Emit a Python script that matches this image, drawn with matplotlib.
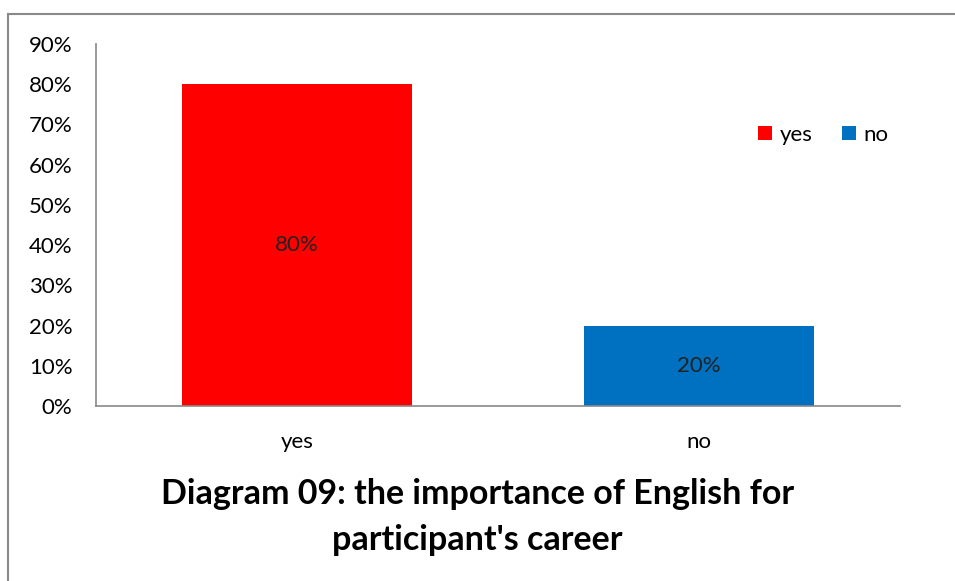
import matplotlib.pyplot as plt
from matplotlib.patches import Patch
from matplotlib.lines import Line2D

categories = ["yes", "no"]
shares = [0.80, 0.20]
bar_colors = ["#FF0000", "#0070C0"]
y_ticks = [0.0, 0.1, 0.2, 0.3, 0.4, 0.5, 0.6, 0.7, 0.8, 0.9]
title = "Diagram 09: the importance of English for\nparticipant's career"

plt.rcParams["font.family"] = ["Lato", "DejaVu Sans"]

fig = plt.figure(figsize=(9.55, 5.81), dpi=100)
ax = fig.add_axes([0.1005, 0.3012, 0.8419, 0.6231])

x = range(len(categories))
bars = ax.bar(x, shares, width=0.572, color=bar_colors)
for b, v in zip(bars, shares):
    ax.text(b.get_x() + b.get_width() / 2, v / 2, f"{v:.0%}",
            ha="center", va="center", fontsize=16, color="#222222")

ax.set_xlim(-0.5, 1.5)
ax.set_ylim(0, 0.9)
ax.set_yticks(y_ticks)
ax.set_yticklabels([f"{t:.0%}" for t in y_ticks], fontsize=16)
ax.set_xticks(list(x))
ax.set_xticklabels(categories, fontsize=16)
ax.tick_params(length=0)
ax.tick_params(axis="y", pad=17)
ax.tick_params(axis="x", pad=19)
for s in ["top", "right"]:
    ax.spines[s].set_visible(False)
for s in ["left", "bottom"]:
    ax.spines[s].set_color("#898989")
    ax.spines[s].set_linewidth(1.2)

handles = [Patch(facecolor=c, label=l) for c, l in zip(bar_colors, categories)]
fig.legend(handles=handles, loc="center", bbox_to_anchor=(0.862, 0.768),
           ncol=2, frameon=False, fontsize=16, handlelength=0.65,
           handleheight=0.65, handletextpad=0.35, columnspacing=1.3)

fig.text(0.5, 0.11, title, ha="center", va="center", fontsize=24.5,
         fontweight="bold", linespacing=1.55)

# outer chart frame (left and top edges)
fig.add_artist(Line2D([0.0085, 0.0085], [0, 1 - 14 / 581], color="#898989",
                      lw=1.5, transform=fig.transFigure))
fig.add_artist(Line2D([0.0085, 1], [1 - 14 / 581, 1 - 14 / 581], color="#898989",
                      lw=1.5, transform=fig.transFigure))

fig.savefig("out.png", dpi=100)
